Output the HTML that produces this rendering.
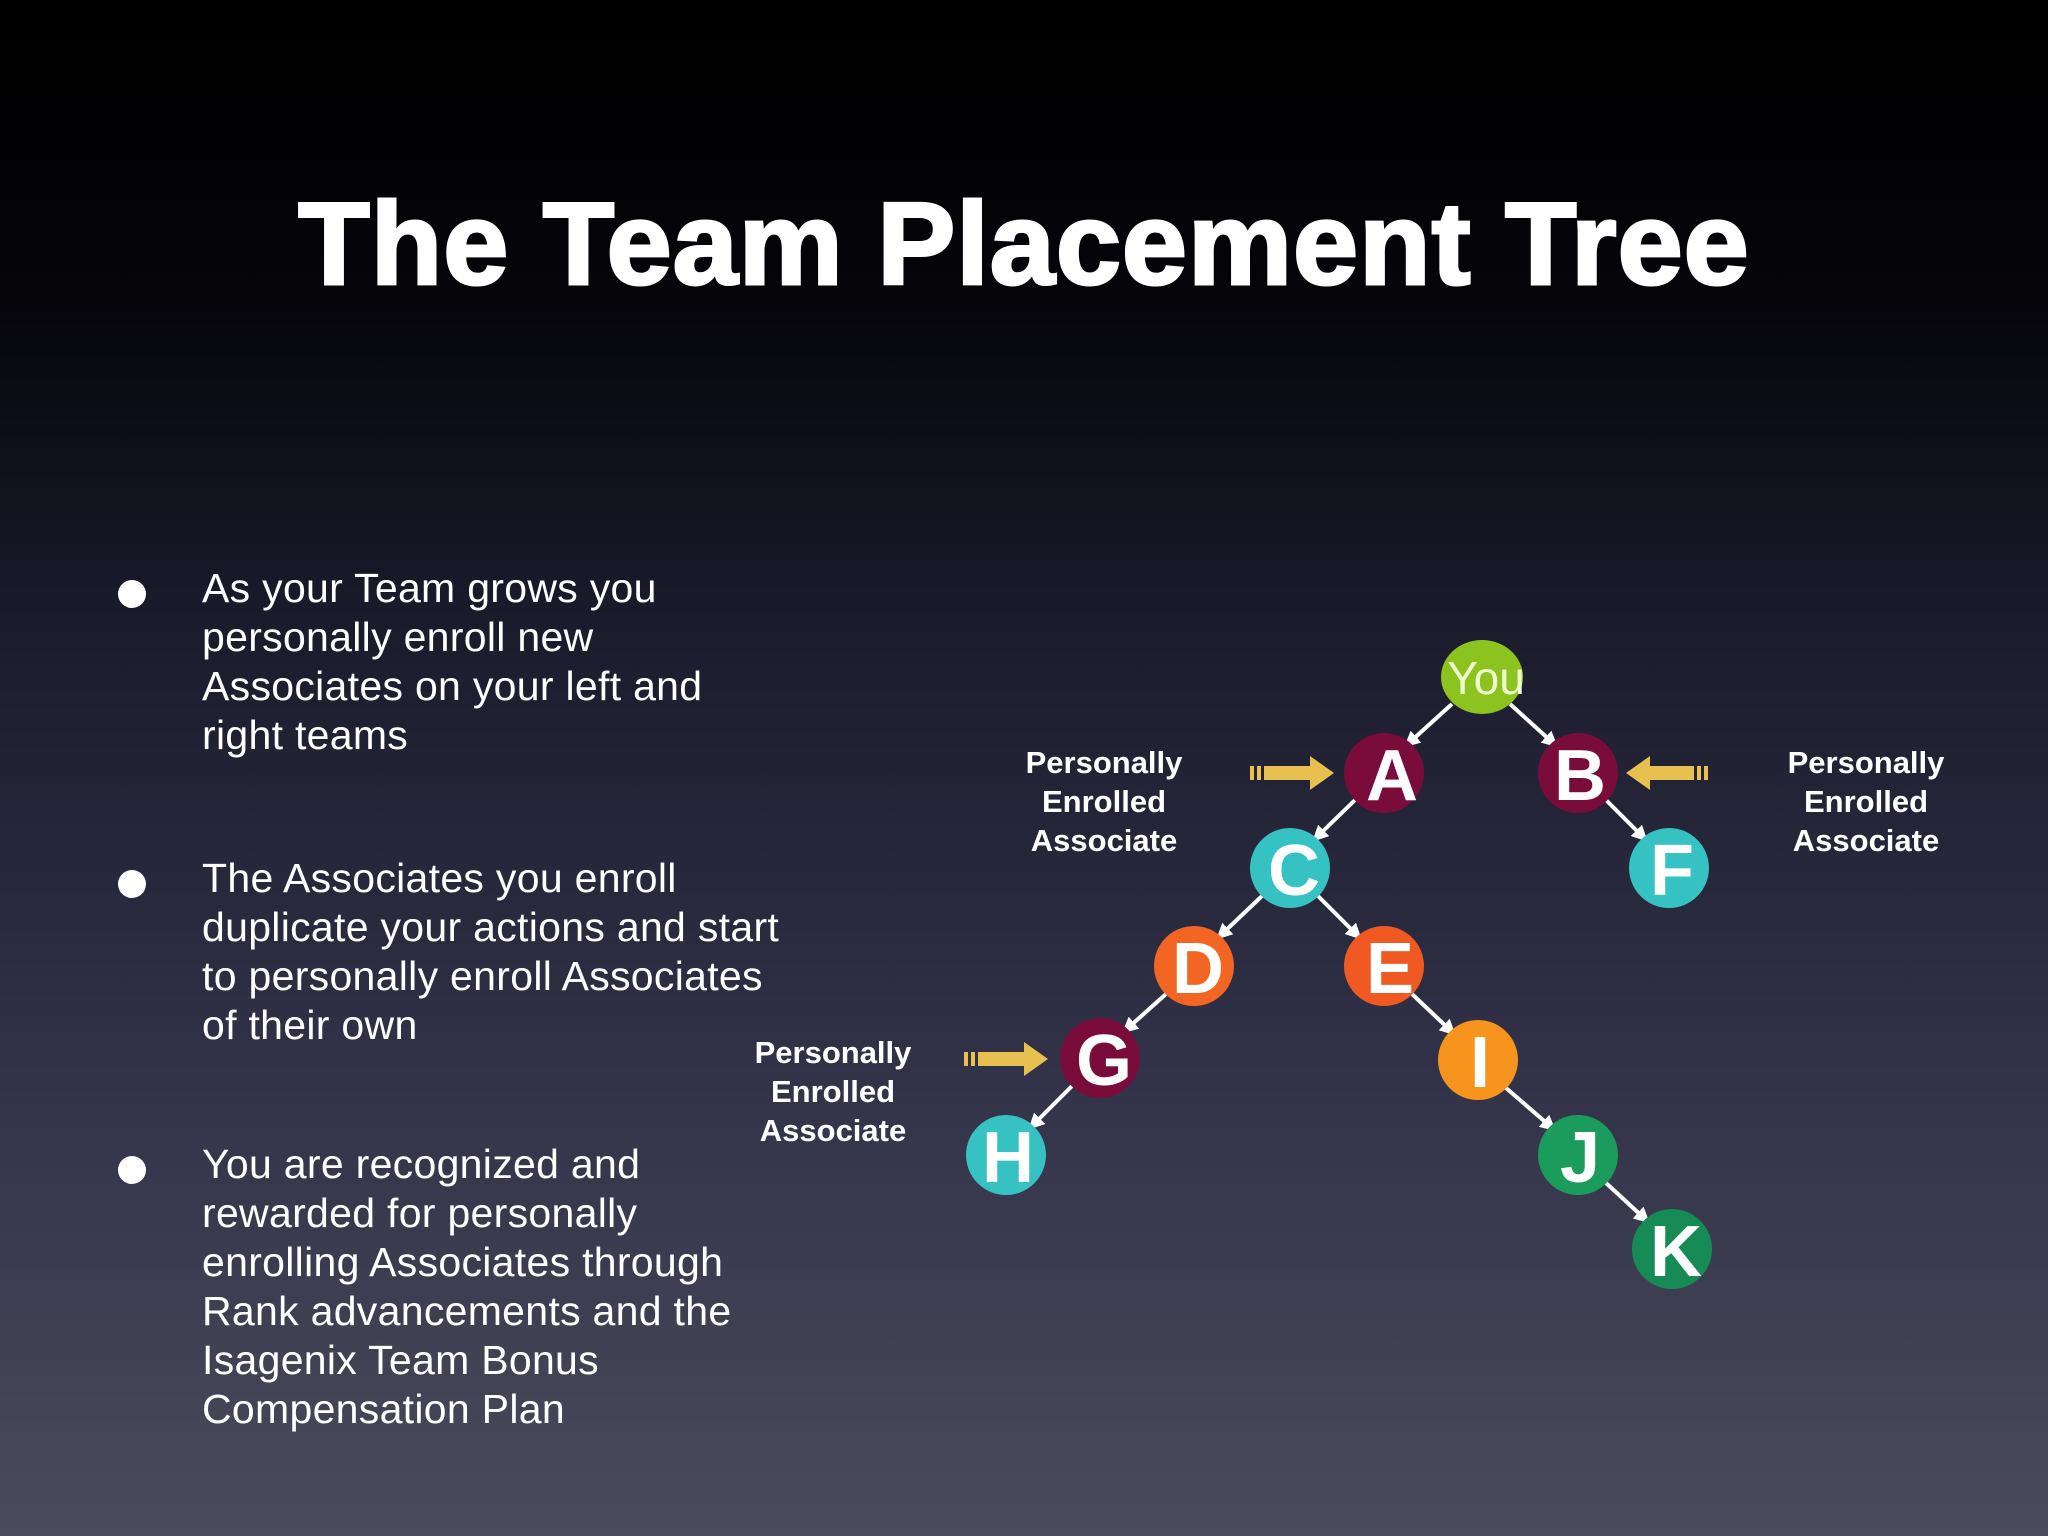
<!DOCTYPE html>
<html><head><meta charset="utf-8"><style>
html,body{margin:0;padding:0;}
body{width:2048px;height:1536px;overflow:hidden;background:linear-gradient(to bottom,#000 0px,#05050a 300px,#191a2a 600px,#33334a 1100px,#4c4b5b 1536px);position:relative;font-family:"Liberation Sans",sans-serif;}
h1{position:absolute;left:0;width:2048px;top:176px;margin:0;text-align:center;color:#fff;font-size:117px;font-weight:bold;letter-spacing:1px;-webkit-text-stroke:3px #fff;}
.b{position:absolute;left:202px;color:#fff;font-size:41px;line-height:49px;letter-spacing:0.3px;}
.dot{position:absolute;left:118px;width:28px;height:28px;border-radius:50%;background:#fff;}
</style></head><body>
<h1>The Team Placement Tree</h1>
<div class="dot" style="top:580px"></div>
<div class="b" style="top:564px">As your Team grows you<br>personally enroll new<br>Associates on your left and<br>right teams</div>
<div class="dot" style="top:870px"></div>
<div class="b" style="top:854px">The Associates you enroll<br>duplicate your actions and start<br>to personally enroll Associates<br>of their own</div>
<div class="dot" style="top:1156px"></div>
<div class="b" style="top:1140px">You are recognized and<br>rewarded for personally<br>enrolling Associates through<br>Rank advancements and the<br>Isagenix Team Bonus<br>Compensation Plan</div>
<svg width="2048" height="1536" style="position:absolute;left:0;top:0">
<defs><marker id="ah" markerWidth="4" markerHeight="4" refX="2" refY="2" orient="auto" markerUnits="strokeWidth"><path d="M0,0 L4,2 L0,4 Z" fill="#fff"/></marker></defs>
<g stroke="#fff" stroke-width="4" marker-end="url(#ah)">
<line x1="1452" y1="704" x2="1410" y2="742"/>
<line x1="1510" y1="704" x2="1552" y2="742"/>
<line x1="1355" y1="800" x2="1318" y2="836"/>
<line x1="1606" y1="800" x2="1642" y2="836"/>
<line x1="1262" y1="896" x2="1222" y2="934"/>
<line x1="1318" y1="896" x2="1356" y2="934"/>
<line x1="1166" y1="994" x2="1128" y2="1028"/>
<line x1="1412" y1="994" x2="1450" y2="1030"/>
<line x1="1072" y1="1086" x2="1034" y2="1124"/>
<line x1="1506" y1="1088" x2="1550" y2="1126"/>
<line x1="1606" y1="1183" x2="1644" y2="1218"/>
</g>
<g fill="#e8c050">
<rect x="1250" y="766" width="4" height="14"/><rect x="1257" y="766" width="4" height="14"/><rect x="1264" y="766" width="50" height="14"/><path d="M1310,756 L1334,773 L1310,790 Z"/>
<rect x="1704" y="766" width="4" height="14"/><rect x="1697" y="766" width="4" height="14"/><rect x="1646" y="766" width="48" height="14"/><path d="M1650,756 L1626,773 L1650,790 Z"/>
<rect x="964" y="1052" width="4" height="14"/><rect x="971" y="1052" width="4" height="14"/><rect x="978" y="1052" width="50" height="14"/><path d="M1024,1042 L1048,1059 L1024,1076 Z"/>
</g>
<g font-family="Liberation Sans,sans-serif" font-size="72" fill="#fff" text-anchor="middle">
<ellipse cx="1482" cy="677" rx="41" ry="37" fill="#8cc31e"/><text x="1486" y="694" font-size="46" fill="#f0ffd0">You</text>
<circle cx="1384" cy="773" r="40" fill="#7a0c3c"/><text x="1392" y="800" font-weight="bold">A</text>
<circle cx="1578" cy="773" r="40" fill="#7a0c3c"/><text x="1580" y="800" font-weight="bold">B</text>
<circle cx="1290" cy="868" r="40" fill="#36c2c3"/><text x="1294" y="895" font-weight="bold">C</text>
<circle cx="1669" cy="868" r="40" fill="#36c2c3"/><text x="1672" y="895" font-weight="bold">F</text>
<circle cx="1194" cy="966" r="40" fill="#f26522"/><text x="1198" y="993" font-weight="bold">D</text>
<circle cx="1384" cy="966" r="40" fill="#f05a22"/><text x="1390" y="993" font-weight="bold">E</text>
<circle cx="1100" cy="1058" r="40" fill="#7a0c3c"/><text x="1104" y="1085" font-weight="bold">G</text>
<circle cx="1478" cy="1060" r="40" fill="#f7941d"/><text x="1480" y="1087" font-weight="bold">I</text>
<circle cx="1006" cy="1155" r="40" fill="#36c2c3"/><text x="1008" y="1182" font-weight="bold">H</text>
<circle cx="1578" cy="1155" r="40" fill="#1b9b5c"/><text x="1580" y="1182" font-weight="bold">J</text>
<circle cx="1672" cy="1249" r="40" fill="#168b56"/><text x="1676" y="1276" font-weight="bold">K</text>
</g>
<g font-family="Liberation Sans,sans-serif" font-size="31" font-weight="bold" fill="#fff" text-anchor="middle">
<text x="1104" y="773">Personally</text><text x="1104" y="812">Enrolled</text><text x="1104" y="851">Associate</text>
<text x="1866" y="773">Personally</text><text x="1866" y="812">Enrolled</text><text x="1866" y="851">Associate</text>
<text x="833" y="1063">Personally</text><text x="833" y="1102">Enrolled</text><text x="833" y="1141">Associate</text>
</g>
</svg>
</body></html>
